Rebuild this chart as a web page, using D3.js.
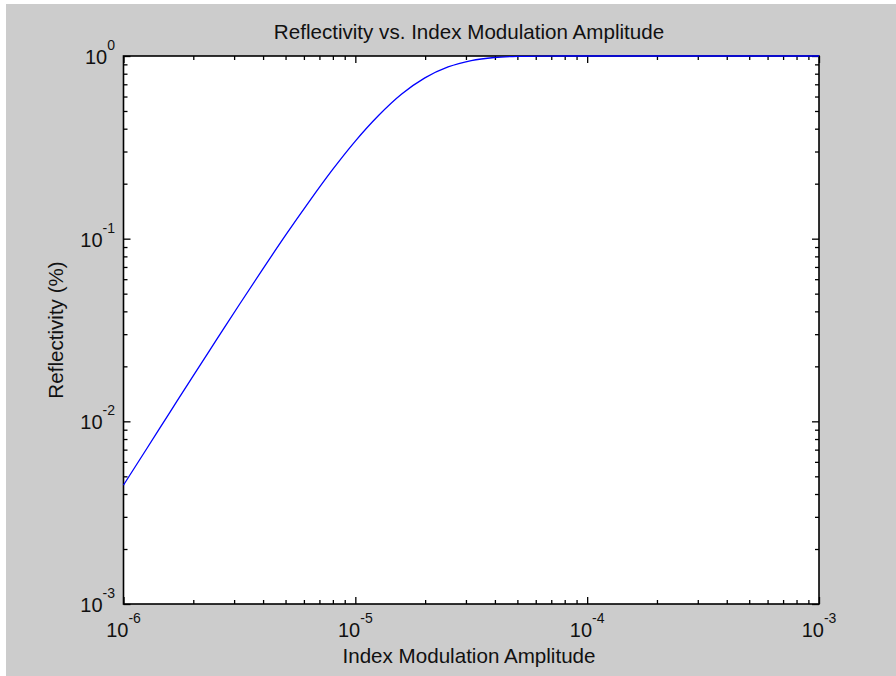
<!DOCTYPE html>
<html>
<head>
<meta charset="utf-8">
<script src="https://cdn.jsdelivr.net/npm/d3@7"></script>
<style>
  html, body { margin: 0; padding: 0; background: #ffffff; }
  svg { display: block; }
  text { font-family: "Liberation Sans", Arial, Helvetica, sans-serif; fill: #111; }
</style>
</head>
<body>
<svg id="chart" width="896" height="676"></svg>
<script>
// ---- data ----
const deltaN = [1e-6, 1.259e-6, 1.585e-6, 1.995e-6, 2.512e-6, 3.162e-6, 3.981e-6, 5.012e-6,
                6.310e-6, 7.943e-6, 1e-5, 1.259e-5, 1.585e-5, 1.995e-5, 2.512e-5, 3.162e-5,
                3.981e-5, 5.012e-5, 6.310e-5, 7.943e-5, 1e-4, 1e-3];
const reflectivity = [0.00448, 0.00708, 0.0112, 0.0177, 0.0278, 0.0436, 0.0679, 0.1048,
                      0.159, 0.237, 0.342, 0.472, 0.619, 0.759, 0.871, 0.944,
                      0.981, 0.995, 0.999, 1.0, 1.0, 1.0];
const xTickExponents = ["-6", "-5", "-4", "-3"];
const yTickExponents = ["-3", "-2", "-1", "0"];
const titleText = "Reflectivity vs. Index Modulation Amplitude";
const xLabelText = "Index Modulation Amplitude";
const yLabelText = "Reflectivity (%)";

// ---- layout ----
const W = 896, H = 676;
const L = 123.5, R = 819, T = 56, B = 604;

const svg = d3.select("#chart");
svg.append("rect").attr("x", 6).attr("y", 4).attr("width", W - 6).attr("height", H - 4).attr("fill", "#cccccc");
svg.append("rect").attr("x", L).attr("y", T).attr("width", R - L).attr("height", B - T).attr("fill", "#ffffff");

const x = d3.scaleLog().domain([1e-6, 1e-3]).range([L, R]);
const y = d3.scaleLog().domain([1e-3, 1]).range([B, T]);

const xMajor = xTickExponents.map(e => Math.pow(10, +e));
const yMajor = yTickExponents.map(e => Math.pow(10, +e));
function minors(dec) {
  const out = [];
  for (let i = 0; i < dec.length - 1; i++) for (let k = 2; k <= 9; k++) out.push(dec[i] * k);
  return out;
}
const xMinor = minors(xMajor), yMinor = minors(yMajor);

function axisGroup(axis, tx, ty) {
  const g = svg.append("g").attr("transform", `translate(${tx},${ty})`).call(axis);
  g.select(".domain").remove();
  g.selectAll(".tick line").attr("stroke", "#000").attr("stroke-width", 1.3);
  g.selectAll(".tick text").remove();
  return g;
}
const MAJ = 7, MIN = 4;
// bottom & top
axisGroup(d3.axisBottom(x).tickValues(xMajor).tickSizeInner(-MAJ).tickSizeOuter(0).tickFormat(""), 0, B);
axisGroup(d3.axisBottom(x).tickValues(xMinor).tickSizeInner(-MIN).tickSizeOuter(0).tickFormat(""), 0, B);
axisGroup(d3.axisTop(x).tickValues(xMajor).tickSizeInner(-MAJ).tickSizeOuter(0).tickFormat(""), 0, T);
axisGroup(d3.axisTop(x).tickValues(xMinor).tickSizeInner(-MIN).tickSizeOuter(0).tickFormat(""), 0, T);
// left & right
axisGroup(d3.axisLeft(y).tickValues(yMajor).tickSizeInner(-MAJ).tickSizeOuter(0).tickFormat(""), L, 0);
axisGroup(d3.axisLeft(y).tickValues(yMinor).tickSizeInner(-MIN).tickSizeOuter(0).tickFormat(""), L, 0);
axisGroup(d3.axisRight(y).tickValues(yMajor).tickSizeInner(-MAJ).tickSizeOuter(0).tickFormat(""), R, 0);
axisGroup(d3.axisRight(y).tickValues(yMinor).tickSizeInner(-MIN).tickSizeOuter(0).tickFormat(""), R, 0);

// box
svg.append("rect").attr("x", L).attr("y", T).attr("width", R - L).attr("height", B - T)
  .attr("fill", "none").attr("stroke", "#000").attr("stroke-width", 1.6);

// tick labels 10^n
xTickExponents.forEach((e, i) => {
  const t = svg.append("text").attr("x", x(xMajor[i])).attr("y", 637)
    .attr("text-anchor", "middle").attr("font-size", 20);
  t.append("tspan").text("10");
  t.append("tspan").attr("dy", -14).attr("font-size", 14).text(e);
});
yTickExponents.forEach((e, i) => {
  const t = svg.append("text").attr("x", 115).attr("y", y(yMajor[i]) + 8)
    .attr("text-anchor", "end").attr("font-size", 20);
  t.append("tspan").text("10");
  t.append("tspan").attr("dy", -14).attr("font-size", 14).text(e);
});

// titles
svg.append("text").attr("x", 469).attr("y", 39).attr("text-anchor", "middle")
  .attr("font-size", 20.6).text(titleText);
svg.append("text").attr("x", 469).attr("y", 663).attr("text-anchor", "middle")
  .attr("font-size", 20.6).text(xLabelText);
svg.append("text").attr("transform", `translate(63,${(T + B) / 2}) rotate(-90)`)
  .attr("text-anchor", "middle").attr("font-size", 20.6).text(yLabelText);

// curve
const pts = deltaN.map((d, i) => [d, reflectivity[i]]);
const line = d3.line().x(d => x(d[0])).y(d => y(d[1])).curve(d3.curveMonotoneX);
svg.append("path").datum(pts).attr("d", line)
  .attr("fill", "none").attr("stroke", "#0000ff").attr("stroke-width", 1.3);
</script>
</body>
</html>
